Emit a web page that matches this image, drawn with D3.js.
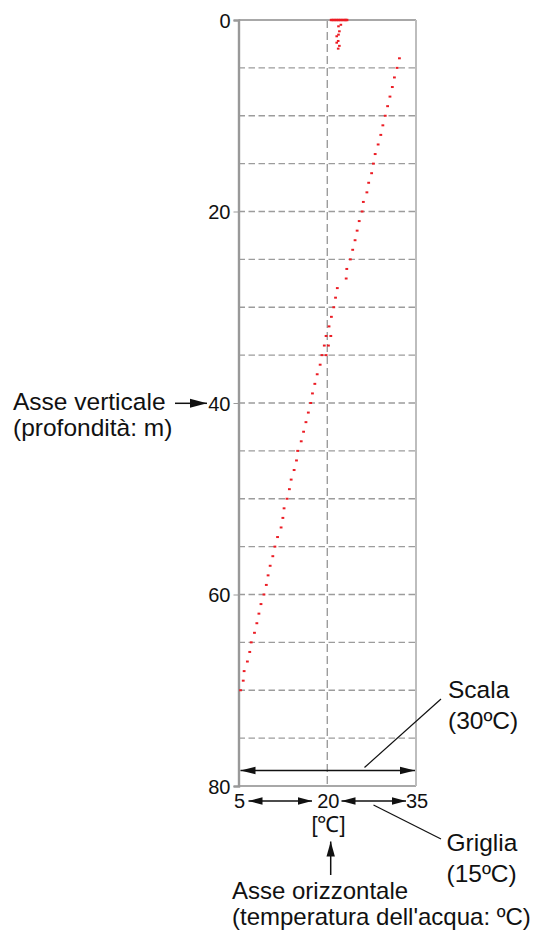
<!DOCTYPE html>
<html><head><meta charset="utf-8">
<script src="https://cdn.jsdelivr.net/npm/d3@7"></script>
<style>html,body{margin:0;padding:0;background:#fff;}svg{display:block;}</style>
</head><body>
<script>
// ---- data ----
const depthTicks = [0, 20, 40, 60, 80];
const tempTicks = [5, 20, 35];
const gridDepths = [5, 10, 15, 20, 25, 30, 35, 40, 45, 50, 55, 60, 65, 70, 75];
const gridTemps = [20];
// surface readings (depth 0)
const surfaceTemps = [20.7, 21.0, 21.3, 21.6, 21.9, 22.2, 22.5, 22.8, 23.1, 23.3];
// shallow readings
const shallowDepths = [0.5, 0.66, 1.18, 1.53, 1.7, 2.19, 2.37, 2.7, 2.99];
const shallowTemps = [22.3, 21.9, 22.05, 21.9, 21.6, 21.85, 21.6, 22.05, 21.85];
// profile readings
const profileDepths = [4,5,6,7,8,9,10,11,12,13,14,15,16,17,18,19,20,21,22,23,24,25,26,27,28,29,30,31,32,33,33,34,34,35,35,36,37,38,39,40,41,42,43,44,45,46,47,48,49,50,51,52,53,54,55,56,57,58,59,60,61,62,63,64,65,66,67,68,69,70];
const profileTemps = [32.2,31.8,31.35,31.0,30.6,30.2,29.8,29.4,29.05,28.6,28.1,27.8,27.5,27.0,26.7,26.1,25.9,25.4,25.05,24.7,24.3,23.9,23.3,23.2,21.7,21.4,21.1,20.7,20.3,19.8,20.6,19.5,20.2,19.1,19.8,18.8,18.3,17.9,17.5,17.2,16.8,16.4,16.0,15.6,15.0,14.8,14.4,13.9,13.6,13.2,12.7,12.5,12.2,11.6,11.15,10.8,10.35,10.0,9.7,9.3,8.8,8.45,8.1,7.7,7.15,6.9,6.5,5.95,5.8,5.35];

const W = 539, H = 935;
const FONT = "'Liberation Sans', Arial, Helvetica, sans-serif";
const svg = d3.select("body").append("svg").attr("width", W).attr("height", H);

const x = d3.scaleLinear().domain([5, 35]).range([238.5, 416]);
const y = d3.scaleLinear().domain([0, 80]).range([20, 786]);

// grid
svg.append("g").selectAll("line").data(gridDepths).join("line")
  .attr("x1", x(5)).attr("x2", x(35))
  .attr("y1", d => y(d)).attr("y2", d => y(d))
  .attr("stroke", "#9c9c9c").attr("stroke-width", 1.3).attr("stroke-dasharray", "6.5,3.5");
svg.append("g").selectAll("line").data(gridTemps).join("line")
  .attr("x1", d => x(d)).attr("x2", d => x(d))
  .attr("y1", y(0)).attr("y2", y(80))
  .attr("stroke", "#8c8c8c").attr("stroke-width", 1.2).attr("stroke-dasharray", "8,4");

// frame
const fc = "#a8a8a8";
svg.append("line").attr("x1", x(5)).attr("x2", x(35)).attr("y1", y(0)).attr("y2", y(0)).attr("stroke", fc).attr("stroke-width", 1.8);
svg.append("line").attr("x1", x(5)).attr("x2", x(35)).attr("y1", y(80)).attr("y2", y(80)).attr("stroke", fc).attr("stroke-width", 1.8);
svg.append("line").attr("x1", x(35)).attr("x2", x(35)).attr("y1", y(0)).attr("y2", y(80)).attr("stroke", "#bdbdbd").attr("stroke-width", 2);

// left axis
const yAxis = d3.axisLeft(y).tickValues(depthTicks).tickSize(5).tickPadding(3).tickFormat(d3.format("d"));
const ya = svg.append("g").attr("transform", `translate(${x(5)},0)`).call(yAxis);
ya.select(".domain").attr("stroke", "#999").attr("stroke-width", 2.4);
ya.selectAll(".tick line").attr("stroke", "#999").attr("stroke-width", 1);
ya.selectAll(".tick text").attr("font-family", FONT).attr("font-size", 20).attr("fill", "#111").attr("dy", "0.36em");

// bottom axis labels
const xAxis = d3.axisBottom(x).tickValues(tempTicks).tickSize(0).tickPadding(8).tickFormat(d3.format("d"));
const xa = svg.append("g").attr("transform", `translate(0.5,${y(80)})`).call(xAxis);
xa.select(".domain").remove();
xa.selectAll(".tick text").attr("font-family", FONT).attr("font-size", 20).attr("fill", "#111");

// data marks
const red = "#ec1c24";
const dots = svg.append("g").attr("fill", red);
dots.selectAll("rect.s").data(surfaceTemps).join("rect").attr("class", "s")
  .attr("x", d => x(d) - 1.6).attr("y", y(0) - 1.2).attr("width", 3.2).attr("height", 2.4);
dots.selectAll("rect.h").data(shallowTemps).join("rect").attr("class", "h")
  .attr("x", d => x(d) - 1.3).attr("y", (d, i) => y(shallowDepths[i]) - 1).attr("width", 2.6).attr("height", 2);
dots.selectAll("rect.p").data(profileTemps).join("rect").attr("class", "p")
  .attr("x", d => x(d) - 1.4).attr("y", (d, i) => y(profileDepths[i]) - 1).attr("width", 2.8).attr("height", 2);

// arrow helpers
function arrowHead(g, tx, ty, angle, len, hw) {
  const a = angle;
  const bx = tx - len * Math.cos(a), by = ty - len * Math.sin(a);
  const px = -Math.sin(a) * hw, py = Math.cos(a) * hw;
  g.append("path").attr("d", `M${tx},${ty}L${bx + px},${by + py}L${bx - px},${by - py}Z`).attr("fill", "#111");
}
function arrow(g, x1, y1, x2, y2, both, len = 15, hw = 4) {
  const a = Math.atan2(y2 - y1, x2 - x1);
  g.append("line").attr("x1", x1).attr("y1", y1).attr("x2", x2).attr("y2", y2).attr("stroke", "#111").attr("stroke-width", 1.5);
  arrowHead(g, x2, y2, a, len, hw);
  if (both) arrowHead(g, x1, y1, a + Math.PI, len, hw);
}
const ann = svg.append("g");
// scale arrow
arrow(ann, x(5) + 2, 770.5, x(35) - 1, 770.5, true, 15, 3.8);
// grid arrows
arrow(ann, 248.5, 801, 312, 801, true, 14, 3.8);
arrow(ann, 341.5, 801, 406, 801, true, 14, 3.8);
// vertical axis pointer
arrow(ann, 175, 403.3, 207, 403.3, false, 17, 4.5);
// horizontal axis pointer
arrow(ann, 330.7, 875, 330.7, 841.5, false, 15, 4.2);
// leader lines
ann.append("line").attr("x1", 364.5).attr("y1", 767.5).attr("x2", 441).attr("y2", 699).attr("stroke", "#111").attr("stroke-width", 1.2);
ann.append("line").attr("x1", 373.5).attr("y1", 805).attr("x2", 441).attr("y2", 839).attr("stroke", "#111").attr("stroke-width", 1.2);

// texts
function txt(s, tx, ty, size, anchor = "start") {
  svg.append("text").attr("x", tx).attr("y", ty).attr("font-family", FONT).attr("font-size", size)
    .attr("fill", "#111").attr("text-anchor", anchor).text(s);
}
txt("[℃]", 328.5, 832, 22, "middle");
txt("Asse verticale", 13, 409.5, 24.5);
txt("(profondità: m)", 13, 435.5, 24.5);
txt("Scala", 448, 697.5, 24.5);
txt("(30ºC)", 448, 728.5, 24.5);
txt("Griglia", 446.5, 850.5, 24.5);
txt("(15ºC)", 446.5, 881.5, 24.5);
txt("Asse orizzontale", 232, 898.5, 24);
txt("(temperatura dell'acqua: ºC)", 232, 924.5, 24);
</script>
</body></html>
